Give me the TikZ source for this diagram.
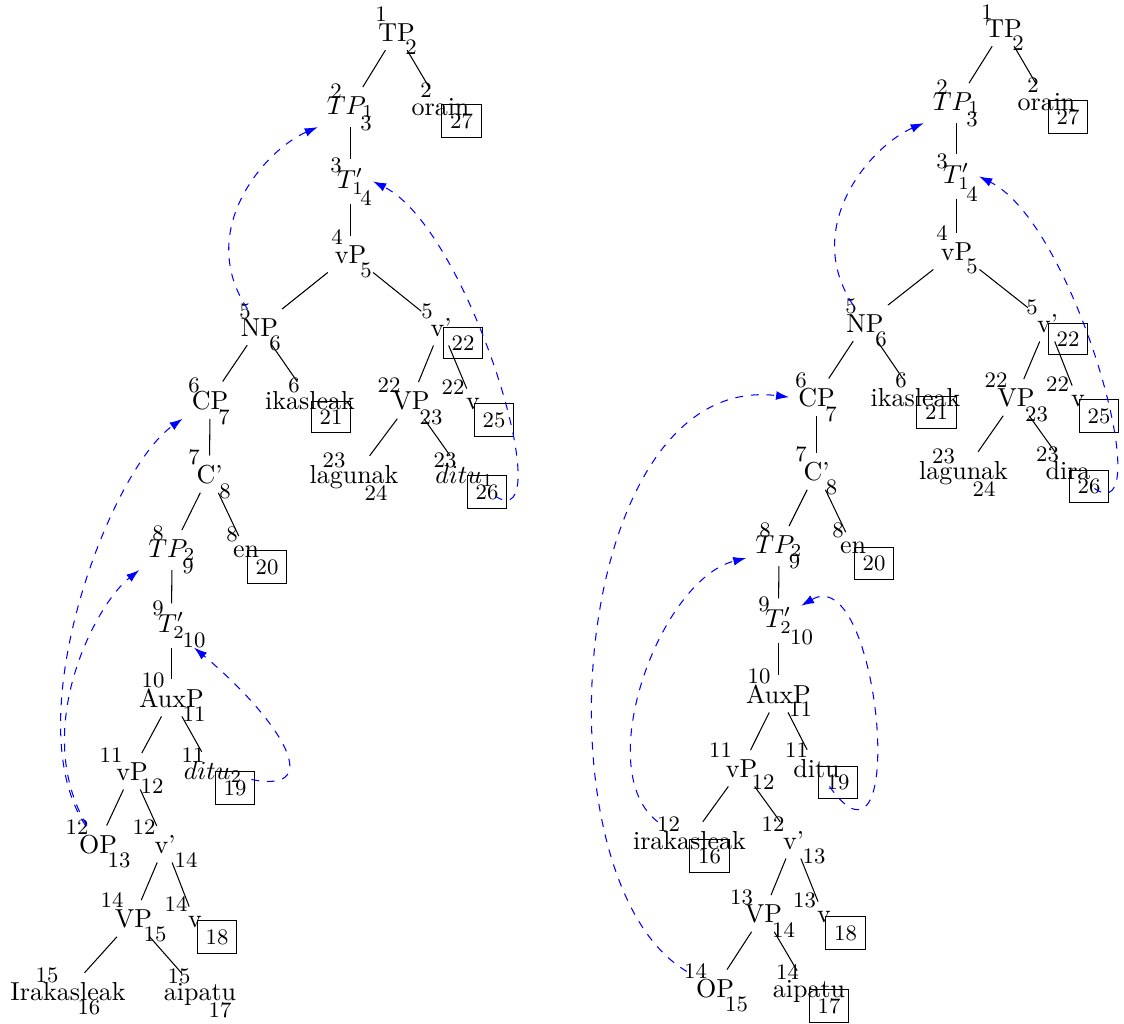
\documentclass[tikz,border=0pt]{standalone}
\usepackage{fontspec}
\usetikzlibrary{arrows.meta}
\newcommand\idxf{\fontsize{8.5pt}{10pt}\selectfont}
\begin{document}
\begin{tikzpicture}[x=0.384615pt,y=-0.384615pt,
  lab/.style={inner sep=3.33pt, anchor=base},
  idx/.style={font=\idxf, inner sep=0pt},
  bx/.style={draw, font=\idxf, inner sep=3.3pt, line width=0.4pt},
  tedge/.style={line width=0.4pt},
  mv/.style={blue, dashed, line width=0.4pt, -{Latex[length=5pt,width=3.4pt]}}]
\useasboundingbox (0,0) rectangle (1124,1023);

% ---------------- left tree ----------------
\node[lab] (lTP) at (396.5,41) {TP};
\node[idx] (lTPs) at (381,14) {1};
\node[idx] (lTPi) at (411,47) {2};

\node[lab] (lTPa) at (350.5,114) {$TP_1$};
\node[idx] (lTPas) at (336,91) {2};
\node[idx] (lTPai) at (366,123) {3};

\node[lab] (lorain) at (440.5,115) {orain};
\node[idx] (lorains) at (426,90) {2};
\node[bx] (lorainb) at (461.5,121) {27};

\node[lab] (lTb) at (350.5,188) {$T'_1$};
\node[idx] (lTbs) at (336,165) {3};
\node[idx] (lTbi) at (366,198) {4};

\node[lab] (lvP) at (350.5,263) {vP};
\node[idx] (lvPs) at (337,237) {4};
\node[idx] (lvPi) at (366,270) {5};

\node[lab] (lNP) at (259.5,336) {NP};
\node[idx] (lNPs) at (245,311) {5};
\node[idx] (lNPi) at (275,343) {6};

\node[lab] (lvb) at (441,336) {v'};
\node[idx] (lvbs) at (427,311) {5};
\node[bx] (lvbb) at (463,343) {22};

\node[lab] (lCP) at (210,409) {CP};
\node[idx] (lCPs) at (194,385) {6};
\node[idx] (lCPi) at (224,417) {7};

\node[lab] (likas) at (310,409) {ikasleak};
\node[idx] (likass) at (294,385) {6};
\node[bx] (likasb) at (331,417) {21};

\node[lab] (lVP) at (411,409) {VP};
\node[idx] (lVPs) at (389,385) {22};
\node[idx] (lVPi) at (431,417) {23};

\node[lab] (lv) at (473,409) {v};
\node[idx] (lvs) at (453,387) {22};
\node[bx] (lvbx) at (494,420) {25};

\node[lab] (llag) at (354,483) {lagunak};
\node[idx] (llags) at (334,460) {23};
\node[idx] (llagi) at (376,493) {24};

\node[lab] (lditu) at (464.5,483) {$ditu_1$};
\node[idx] (lditus) at (445,460) {23};
\node[bx] (lditub) at (487,492) {26};

\node[lab] (lCb) at (209.5,483) {C'};
\node[idx] (lCbs) at (194,457) {7};
\node[idx] (lCbi) at (225,491) {8};

\node[lab] (lTPb) at (172,557) {$TP_2$};
\node[idx] (lTPbs) at (158,533) {8};
\node[idx] (lTPbi) at (188,566) {9};

\node[lab] (len) at (246,557) {en};
\node[idx] (lens) at (232,534) {8};
\node[bx] (lenb) at (267,567) {20};

\node[lab] (lTc) at (171.5,632) {$T'_2$};
\node[idx] (lTcs) at (158,608) {9};
\node[idx] (lTci) at (194,640) {10};

\node[lab] (lAux) at (171.5,707) {AuxP};
\node[idx] (lAuxs) at (153,680) {10};
\node[idx] (lAuxi) at (194,714) {11};

\node[lab] (lvPb) at (132,780) {vP};
\node[idx] (lvPbs) at (111,755) {11};
\node[idx] (lvPbi) at (152,786) {12};

\node[lab] (ldituc) at (213,779) {$ditu_2$};
\node[idx] (ldituct) at (193,755) {11};
\node[bx] (ldituck) at (235,788) {19};

\node[lab] (lOP) at (98,853) {OP};
\node[idx] (lOPs) at (77,827) {12};
\node[idx] (lOPi) at (119,860) {13};

\node[lab] (lvc) at (165,853) {v'};
\node[idx] (lvcs) at (144,827) {12};
\node[idx] (lvci) at (186,860) {14};

\node[lab] (lVPb) at (133.5,927) {VP};
\node[idx] (lVPbs) at (112,900) {14};
\node[idx] (lVPbi) at (155,934) {15};

\node[lab] (lvd) at (195,927) {v};
\node[idx] (lvds) at (176,904) {14};
\node[bx] (lvdb) at (217,937) {18};

\node[lab] (lIrak) at (68,1000) {Irakasleak};
\node[idx] (lIraks) at (47,975) {15};
\node[idx] (lIraki) at (89,1007) {16};

\node[lab] (laip) at (200,1000) {aipatu};
\node[idx] (laips) at (179,976) {15};
\node[idx] (laipi) at (220,1010) {17};

\foreach \p/\c in {lTP/lTPa, lTP/lorain, lTPa/lTb, lTb/lvP, lvP/lNP, lvP/lvb,
  lNP/lCP, lNP/likas, lvb/lVP, lvb/lv, lVP/llag, lVP/lditu, lCP/lCb,
  lCb/lTPb, lCb/len, lTPb/lTc, lTc/lAux, lAux/lvPb, lAux/ldituc,
  lvPb/lOP, lvPb/lvc, lvc/lVPb, lvc/lvd, lVPb/lIrak, lVPb/laip}
  \draw[tedge] (\p) -- (\c);

\draw[mv] (lNP) .. controls (195,230) and (265,150) .. (lTPa.south west);
\draw[mv] (lditu) .. controls (562,540) and (470,230) .. (lTb.east);
\draw[mv] (lOP) .. controls (15,720) and (110,470) .. (lCP.south west);
\draw[mv] (lOP) .. controls (30,730) and (95,605) .. (lTPb.south west);
\draw[mv] (ldituc) .. controls (330,795) and (275,715) .. (lTc.south east);

% ---------------- right tree ----------------
\node[lab] (rTP) at (1003.5,37) {TP};
\node[idx] (rTPs) at (987,12) {1};
\node[idx] (rTPi) at (1018,43) {2};

\node[lab] (rTPa) at (956.5,110) {$TP_1$};
\node[idx] (rTPas) at (942,87) {2};
\node[idx] (rTPai) at (972,119) {3};

\node[lab] (rorain) at (1046.5,110) {orain};
\node[idx] (rorains) at (1033,85) {2};
\node[bx] (rorainb) at (1068,117) {27};

\node[lab] (rTb) at (956.5,183) {$T'_1$};
\node[idx] (rTbs) at (942,161) {3};
\node[idx] (rTbi) at (972,194) {4};

\node[lab] (rvP) at (956.5,260) {vP};
\node[idx] (rvPs) at (942,233) {4};
\node[idx] (rvPi) at (972,266) {5};

\node[lab] (rNP) at (865,332) {NP};
\node[idx] (rNPs) at (851,306) {5};
\node[idx] (rNPi) at (881,339) {6};

\node[lab] (rvb) at (1047.5,332) {v'};
\node[idx] (rvbs) at (1032,307) {5};
\node[bx] (rvbb) at (1068,339) {22};

\node[lab] (rCP) at (816.5,406) {CP};
\node[idx] (rCPs) at (801,380) {6};
\node[idx] (rCPi) at (831,414) {7};

\node[lab] (rikas) at (915.5,406) {ikasleak};
\node[idx] (rikass) at (901,380) {6};
\node[bx] (rikasb) at (936.5,412.5) {21};

\node[lab] (rVP) at (1016,406) {VP};
\node[idx] (rVPs) at (996,380) {22};
\node[idx] (rVPi) at (1036.5,414.5) {23};

\node[lab] (rv) at (1078,406) {v};
\node[idx] (rvs) at (1057.5,384.5) {22};
\node[bx] (rvbx) at (1099,416) {25};

\node[lab] (rCb) at (816.5,480) {C'};
\node[idx] (rCbs) at (801,454.5) {7};
\node[idx] (rCbi) at (831.5,487.5) {8};

\node[lab] (rlag) at (963.5,479) {lagunak};
\node[idx] (rlags) at (943.5,456) {23};
\node[idx] (rlagi) at (984,489.5) {24};

\node[lab] (rdira) at (1068,479) {dira};
\node[idx] (rdiras) at (1047.5,454.5) {23};
\node[bx] (rdirab) at (1089,486.5) {26};

\node[lab] (rTPb) at (779,553) {$TP_2$};
\node[idx] (rTPbs) at (765,530) {8};
\node[idx] (rTPbi) at (794.5,561.5) {9};

\node[lab] (ren) at (853,553) {en};
\node[idx] (rens) at (838,530) {8};
\node[bx] (renb) at (874,563.5) {20};

\node[lab] (rTc) at (778.5,627) {$T'_2$};
\node[idx] (rTcs) at (764,604.5) {9};
\node[idx] (rTci) at (801.5,637.5) {10};

\node[lab] (rAux) at (778.5,703) {AuxP};
\node[idx] (rAuxs) at (759,676.5) {10};
\node[idx] (rAuxi) at (800.5,709.5) {11};

\node[lab] (rvPb) at (741.5,777) {vP};
\node[idx] (rvPbs) at (720.5,750) {11};
\node[idx] (rvPbi) at (763,782.5) {12};

\node[lab] (rditu) at (816.5,777) {ditu};
\node[idx] (rditus) at (796.5,750) {11};
\node[bx] (rditub) at (838,782.5) {19};

\node[lab] (rirak) at (689.5,849) {irakasleak};
\node[idx] (riraks) at (668.5,824.5) {12};
\node[bx] (rirakb) at (709.5,856) {16};

\node[lab] (rvc) at (793.5,849) {v'};
\node[idx] (rvcs) at (773,824) {12};
\node[idx] (rvci) at (814,856.5) {13};

\node[lab] (rVPb) at (763.5,922) {VP};
\node[idx] (rVPbs) at (741.5,897) {13};
\node[idx] (rVPbi) at (783.5,930) {14};

\node[lab] (rvd) at (824,922) {v};
\node[idx] (rvds) at (804.5,900) {13};
\node[bx] (rvdb) at (845.5,933) {18};

\node[lab] (rOP) at (715,997) {OP};
\node[idx] (rOPs) at (695.5,971) {14};
\node[idx] (rOPi) at (736.5,1004.5) {15};

\node[lab] (raip) at (809,997) {aipatu};
\node[idx] (raips) at (787.5,972.5) {14};
\node[bx] (raipb) at (829,1006) {17};

\foreach \p/\c in {rTP/rTPa, rTP/rorain, rTPa/rTb, rTb/rvP, rvP/rNP, rvP/rvb,
  rNP/rCP, rNP/rikas, rvb/rVP, rvb/rv, rVP/rlag, rVP/rdira, rCP/rCb,
  rCb/rTPb, rCb/ren, rTPb/rTc, rTc/rAux, rAux/rvPb, rAux/rditu,
  rvPb/rirak, rvPb/rvc, rvc/rVPb, rvc/rvd, rVPb/rOP, rVPb/raip}
  \draw[tedge] (\p) -- (\c);

\draw[mv] (rNP) .. controls (801,226) and (871,146) .. (rTPa.south west);
\draw[mv] (rdira) .. controls (1160,534) and (1076,225) .. (rTb.east);
\draw[mv] (rOP) .. controls (532,880) and (568,370) .. (rCP.west);
\draw[mv] (rirak.150) .. controls (590,770) and (660,580) .. (rTPb.200);
\draw[mv] (rditu) .. controls (910,900) and (880,560) .. (rTc.33);
\end{tikzpicture}
\end{document}
